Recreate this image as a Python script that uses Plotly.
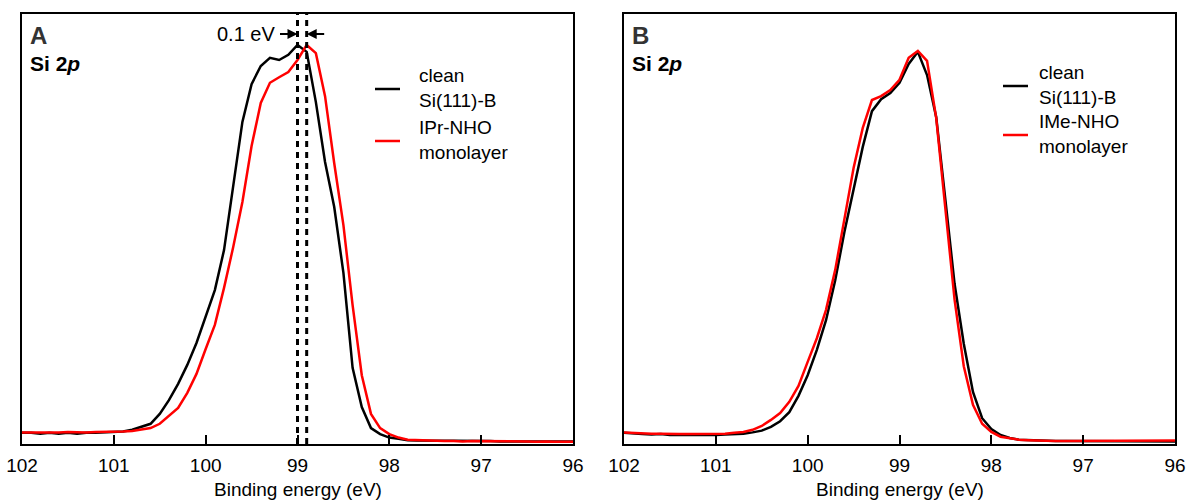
import plotly.graph_objects as go
from plotly.subplots import make_subplots

# Binding energy grid (eV)
energy = [102.0, 101.9, 101.8, 101.7, 101.6, 101.5, 101.4, 101.3, 101.2, 101.1,
          101.0, 100.9, 100.8, 100.7, 100.6, 100.5, 100.4, 100.3, 100.2, 100.1,
          100.0, 99.9, 99.8, 99.7, 99.6, 99.5, 99.4, 99.3, 99.2, 99.1,
          99.0, 98.9, 98.8, 98.7, 98.6, 98.5, 98.4, 98.3, 98.2, 98.1,
          98.0, 97.9, 97.8, 97.7, 97.6, 97.5, 97.4, 97.3, 97.2, 97.1,
          97.0, 96.9, 96.8, 96.7, 96.6, 96.5, 96.4, 96.3, 96.2, 96.1, 96.0]

# Panel A: clean Si(111)-B vs IPr-NHO monolayer (normalized intensity)
a_clean = [0.026, 0.026, 0.024, 0.026, 0.024, 0.026, 0.024, 0.026, 0.026, 0.027,
           0.027, 0.029, 0.033, 0.040, 0.047, 0.070, 0.102, 0.140, 0.184, 0.235,
           0.298, 0.358, 0.451, 0.602, 0.749, 0.837, 0.879, 0.898, 0.893, 0.905,
           0.928, 0.912, 0.795, 0.656, 0.551, 0.398, 0.177, 0.086, 0.037, 0.023,
           0.015, 0.012, 0.009, 0.008, 0.008, 0.007, 0.007, 0.007, 0.007, 0.007,
           0.007, 0.007, 0.006, 0.006, 0.007, 0.006, 0.006, 0.006, 0.006, 0.006, 0.006]
a_ipr = [0.027, 0.027, 0.026, 0.027, 0.027, 0.028, 0.027, 0.027, 0.028, 0.028,
         0.028, 0.029, 0.030, 0.034, 0.037, 0.047, 0.065, 0.084, 0.119, 0.163,
         0.221, 0.277, 0.363, 0.458, 0.563, 0.693, 0.793, 0.840, 0.853, 0.865,
         0.893, 0.928, 0.909, 0.809, 0.653, 0.509, 0.323, 0.160, 0.070, 0.037,
         0.023, 0.015, 0.010, 0.009, 0.008, 0.007, 0.007, 0.007, 0.006, 0.007,
         0.007, 0.006, 0.006, 0.006, 0.006, 0.006, 0.005, 0.006, 0.005, 0.005, 0.005]

# Panel B: clean Si(111)-B vs IMe-NHO monolayer (normalized intensity)
b_clean = [0.026, 0.024, 0.023, 0.022, 0.023, 0.021, 0.021, 0.020, 0.021, 0.021,
           0.021, 0.022, 0.023, 0.024, 0.027, 0.031, 0.040, 0.053, 0.074, 0.112,
           0.160, 0.219, 0.288, 0.381, 0.493, 0.595, 0.691, 0.774, 0.802, 0.816,
           0.840, 0.884, 0.912, 0.858, 0.760, 0.567, 0.372, 0.233, 0.121, 0.060,
           0.035, 0.021, 0.014, 0.010, 0.009, 0.008, 0.007, 0.007, 0.007, 0.007,
           0.006, 0.006, 0.006, 0.006, 0.006, 0.006, 0.006, 0.006, 0.006, 0.006, 0.006]
b_ime = [0.027, 0.026, 0.024, 0.024, 0.024, 0.023, 0.023, 0.023, 0.023, 0.023,
         0.023, 0.024, 0.026, 0.028, 0.033, 0.042, 0.056, 0.072, 0.098, 0.135,
         0.191, 0.246, 0.312, 0.405, 0.523, 0.642, 0.735, 0.800, 0.809, 0.823,
         0.847, 0.898, 0.914, 0.891, 0.758, 0.540, 0.335, 0.181, 0.091, 0.047,
         0.028, 0.017, 0.013, 0.010, 0.009, 0.008, 0.007, 0.007, 0.007, 0.007,
         0.007, 0.007, 0.007, 0.007, 0.007, 0.007, 0.007, 0.007, 0.007, 0.008, 0.008]

x_ticks = [102, 101, 100, 99, 98, 97, 96]
peak_marks = [99.0, 98.9]
x_title = "Binding energy (eV)"

FONT = "Liberation Sans, Arial, sans-serif"
RED = "#ff0000"

W, H = 1189, 501


def px(xp):
    return xp / W


def py(yp):
    return 1 - yp / H


fig = make_subplots(rows=1, cols=2)
fig.add_trace(go.Scatter(x=energy, y=a_clean, mode="lines",
                         line=dict(color="black", width=2.5), name="clean Si(111)-B"), 1, 1)
fig.add_trace(go.Scatter(x=energy, y=a_ipr, mode="lines",
                         line=dict(color=RED, width=2.5), name="IPr-NHO monolayer"), 1, 1)
fig.add_trace(go.Scatter(x=energy, y=b_clean, mode="lines",
                         line=dict(color="black", width=2.5), name="clean Si(111)-B"), 1, 2)
fig.add_trace(go.Scatter(x=energy, y=b_ime, mode="lines",
                         line=dict(color=RED, width=2.5), name="IMe-NHO monolayer"), 1, 2)

xdom1 = [px(22), px(573)]
xdom2 = [px(624), px(1175)]
ydom = [py(444), py(14)]

axis_common = dict(range=[102, 96], tickvals=x_ticks, ticktext=[str(t) for t in x_ticks],
                   ticks="inside", ticklen=9, tickwidth=2, tickcolor="black",
                   showline=True, linewidth=2, linecolor="black", mirror=True,
                   showgrid=False, zeroline=False, automargin=False,
                   ticklabeloverflow="allow",
                   tickfont=dict(family=FONT, size=19, color="black"),
                   ticklabelstandoff=3)
yaxis_common = dict(range=[0, 1], showticklabels=False, ticks="", showgrid=False,
                    zeroline=False, showline=True, linewidth=2, linecolor="black", mirror=True,
                    domain=ydom, automargin=False)

fig.update_xaxes(domain=xdom1, row=1, col=1, **axis_common)
fig.update_xaxes(domain=xdom2, row=1, col=2, **axis_common)
fig.update_yaxes(row=1, col=1, **yaxis_common)
fig.update_yaxes(row=1, col=2, **yaxis_common)

# axis titles
for dom in (xdom1, xdom2):
    fig.add_annotation(xref="paper", yref="paper", x=(dom[0] + dom[1]) / 2, y=py(489),
                       xanchor="center", yanchor="middle", text=x_title, showarrow=False,
                       font=dict(family=FONT, size=19, color="black"))

# dotted peak-position lines in panel A
for xv in peak_marks:
    fig.add_shape(type="line", xref="x", yref="y domain", x0=xv, x1=xv, y0=0, y1=1,
                  line=dict(color="black", width=3, dash="6px,5px"))

# 0.1 eV arrows
ya = (444 - 34) / 430
fig.add_annotation(xref="x", yref="y domain", x=peak_marks[0], y=ya, ax=-19, ay=0,
                   text="", showarrow=True, arrowhead=2, arrowsize=1, arrowwidth=2,
                   arrowcolor="black", standoff=0)
fig.add_annotation(xref="x", yref="y domain", x=peak_marks[1], y=ya, ax=19, ay=0,
                   text="", showarrow=True, arrowhead=2, arrowsize=1, arrowwidth=2,
                   arrowcolor="black", standoff=0)
fig.add_annotation(xref="x domain", yref="y domain", x=(277 - 22) / 551, y=ya,
                   xanchor="right", yanchor="middle", text="0.1 eV", showarrow=False,
                   font=dict(family=FONT, size=20, color="black"))

# panel labels
for xr, yr, letter in [("x domain", "y domain", "A"), ("x2 domain", "y2 domain", "B")]:
    fig.add_annotation(xref=xr, yref=yr, x=0.010, y=(444 - 36) / 430, xanchor="left",
                       yanchor="middle", text="<b>" + letter + "</b>", showarrow=False,
                       font=dict(family=FONT, size=24, color="#333333"))
    fig.add_annotation(xref=xr, yref=yr, x=0.010, y=(444 - 64) / 430, xanchor="left",
                       yanchor="middle", text="<b>Si 2<i>p</i></b>", showarrow=False,
                       font=dict(family=FONT, size=21, color="black"))

# legends (drawn)
legends = [
    ("x domain", "y domain", 375, 400, 89, 141, 417, 88.5, 140, 22,
     "clean<br>Si(111)-B", "IPr-NHO<br>monolayer"),
    ("x2 domain", "y2 domain", 1003, 1028, 86, 135, 1037, 85, 133.5, 624,
     "clean<br>Si(111)-B", "IMe-NHO<br>monolayer"),
]
for xr, yr, lx0, lx1, yb, yrd, tx, tyb, tyr, off, t1, t2 in legends:
    for yy, col in [(yb, "black"), (yrd, RED)]:
        fig.add_shape(type="line", xref=xr, yref=yr,
                      x0=(lx0 - off) / 551, x1=(lx1 - off) / 551,
                      y0=(444 - yy) / 430, y1=(444 - yy) / 430,
                      line=dict(color=col, width=2.5))
    for ty, txt in [(tyb, t1), (tyr, t2)]:
        fig.add_annotation(xref=xr, yref=yr, x=(tx - off) / 551, y=(444 - ty) / 430,
                           xanchor="left", yanchor="middle", align="left", text=txt,
                           showarrow=False, font=dict(family=FONT, size=19, color="black"))

fig.update_layout(width=W, height=H, margin=dict(l=0, r=0, t=0, b=0),
                  paper_bgcolor="white", plot_bgcolor="white", showlegend=False,
                  font=dict(family=FONT))
fig.write_html("out.html", config={"displayModeBar": False},
               post_script="document.body.style.margin='0';document.body.style.overflow='hidden';")
